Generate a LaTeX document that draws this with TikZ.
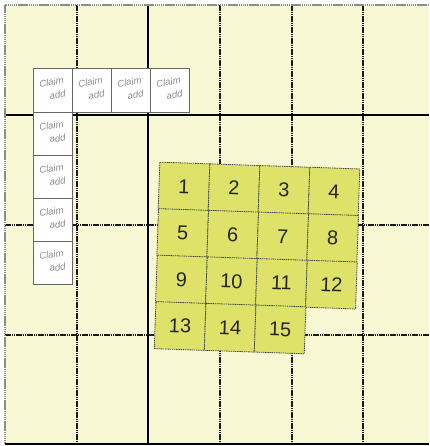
\documentclass[tikz,border=0pt]{standalone}
\usepackage{fontspec}
\setsansfont{Liberation Sans}
\usepackage{graphicx}
\usepackage{xcolor}
\usetikzlibrary{positioning}

\definecolor{planyellow}{RGB}{248,248,212}
\definecolor{tileyellow}{RGB}{222,226,104}
\definecolor{claimgray}{RGB}{140,140,140}

\newcommand{\claimtext}{\rotatebox{8}{\begin{tabular}{@{}r@{}}Claim\\[4pt]add\end{tabular}}}

\begin{document}
\begin{tikzpicture}[
  x=1pt, y=-1pt,
  node distance=0pt and 0pt,
  gridsolid/.style={line width=1.2pt, black},
  griddot/.style={line width=1.5pt, black!90, dash pattern=on 1.6pt off 0.6pt},
  border/.style={line width=1.3pt, black!45, dash pattern=on 1.5pt off 0.6pt},
  claim/.style={draw=black!60, fill=white, line width=0.7pt, inner sep=0pt, outer sep=0pt,
    minimum width=39pt, minimum height=43pt, font=\sffamily\itshape\fontsize{9.5}{9}\selectfont,
    text=claimgray},
  tile/.style={draw=black!70, fill=tileyellow, line width=0.8pt, dash pattern=on 1.5pt off 0.7pt,
    inner sep=0pt, minimum width=50pt, minimum height=47pt, rotate=-2,
    font=\sffamily\fontsize{20}{20}\selectfont, text=black!85}
]
\useasboundingbox (0,0) rectangle (429,446);
\fill[planyellow] (5,5) rectangle (429,444);

% grid of the plan
\draw[griddot] (77,5) -- (77,444);
\draw[gridsolid] (148,5) -- (148,444);
\draw[griddot] (220,5) -- (220,444);
\draw[griddot] (292,5) -- (292,444);
\draw[griddot] (363,5) -- (363,444);
\draw[gridsolid] (5,115) -- (429,115);
\draw[griddot] (5,225) -- (429,225);
\draw[griddot] (5,335) -- (429,335);
\draw[border] (429,5) -- (5,5) -- (5,444);
\draw[gridsolid] (5,444) -- (429,444);

% claim boxes
\node[claim, minimum height=44pt] (claim1) at (52.5,90) {\claimtext};
\node[claim, minimum height=44pt, right=of claim1] (claim2) {\claimtext};
\node[claim, minimum height=44pt, right=of claim2] (claim3) {\claimtext};
\node[claim, minimum height=44pt, right=of claim3] (claim4) {\claimtext};
\node[claim, below=of claim1] (claim5) {\claimtext};
\node[claim, below=of claim5] (claim6) {\claimtext};
\node[claim, below=of claim6] (claim7) {\claimtext};
\node[claim, below=of claim7] (claim8) {\claimtext};

% numbered tiles
\node[tile] (tile1) at (184,186.5) {1};
\node[tile] (tile2) at (234,188.2) {2};
\node[tile] (tile3) at (284,189.9) {3};
\node[tile] (tile4) at (334,191.6) {4};
\node[tile] (tile5) at (182.7,233) {5};
\node[tile] (tile6) at (232.7,234.7) {6};
\node[tile] (tile7) at (282.7,236.4) {7};
\node[tile] (tile8) at (332.7,238.1) {8};
\node[tile] (tile9) at (181.4,279.5) {9};
\node[tile] (tile10) at (231.4,281.2) {10};
\node[tile] (tile11) at (281.4,282.9) {11};
\node[tile] (tile12) at (331.4,284.6) {12};
\node[tile] (tile13) at (180.1,326) {13};
\node[tile] (tile14) at (230.1,327.7) {14};
\node[tile] (tile15) at (280.1,329.4) {15};
\end{tikzpicture}
\end{document}
